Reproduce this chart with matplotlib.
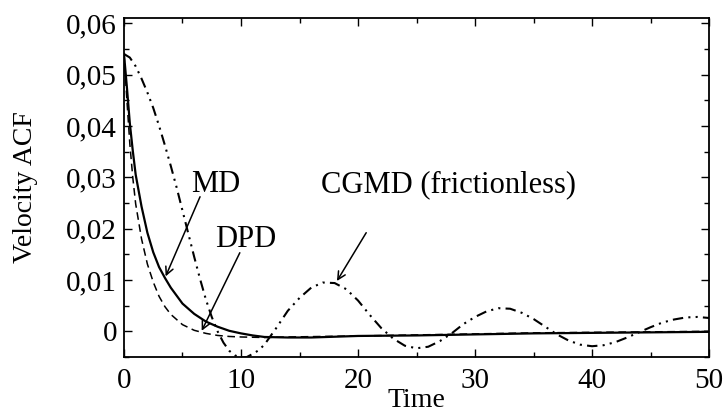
import matplotlib
matplotlib.use("Agg")
import matplotlib.pyplot as plt
from matplotlib.ticker import MultipleLocator

# ---------------------------------------------
# Velocity autocorrelation functions
# ---------------------------------------------
md_time = [0, 0.25, 0.5, 0.75, 1, 1.5, 2, 2.5, 3, 3.5, 4, 5, 6, 7, 8, 9,
           10, 11, 12, 14, 16, 20, 25, 30, 35, 40, 45, 50]
md_acf = [0.054, 0.0475, 0.0405, 0.0352, 0.0305, 0.0243, 0.0192, 0.0154,
          0.0125, 0.0104, 0.0085, 0.0054, 0.0034, 0.0019, 0.0009, 0.0001,
          -0.0004, -0.0008, -0.0011, -0.0012, -0.0012, -0.0009, -0.0008,
          -0.0006, -0.0004, -0.0003, -0.0002, -0.0001]

dpd_time = [0, 0.25, 0.5, 0.75, 1, 1.5, 2, 2.5, 3, 3.5, 4, 5, 6, 7, 8, 9,
            10, 12, 14, 20, 25, 30, 35, 40, 45, 50]
dpd_acf = [0.054, 0.045, 0.0365, 0.030, 0.0248, 0.018, 0.0131, 0.0096,
           0.0068, 0.0048, 0.0033, 0.0013, 0.0002, -0.0004, -0.0008, -0.0010,
           -0.0011, -0.0012, -0.0011, -0.0009, -0.0007, -0.0005, -0.0003,
           -0.0002, -0.0001, 0.0]

cgmd_time = [0, 0.5, 1, 1.5, 2, 2.5, 3, 3.5, 4, 4.5, 5, 5.5, 6, 6.5, 7, 7.5,
             8, 8.5, 9, 9.5, 10, 10.5, 11, 11.5, 12, 12.5, 13, 14, 15, 16, 17,
             18, 19, 20, 21, 22, 23, 24, 25, 26, 27, 28, 29, 30, 31, 32, 33,
             34, 35, 36, 37, 38, 39, 40, 41, 42, 43, 44, 45, 46, 47, 48, 49, 50]
cgmd_acf = [0.0540, 0.0533, 0.0516, 0.0492, 0.0465, 0.0435, 0.0400, 0.0362,
            0.0322, 0.0280, 0.0235, 0.0190, 0.0145, 0.0102, 0.0062, 0.0028,
            0.0000, -0.0022, -0.0038, -0.0047, -0.0051, -0.0050, -0.0044,
            -0.0037, -0.0026, -0.0010, 0.0006, 0.0040, 0.0065, 0.0085, 0.0095,
            0.0094, 0.0082, 0.0060, 0.0032, 0.0006, -0.0014, -0.0028, -0.0033,
            -0.0030, -0.0019, -0.0004, 0.0014, 0.0028, 0.0039, 0.0045, 0.0044,
            0.0036, 0.0024, 0.0009, -0.0006, -0.0018, -0.0026, -0.0029,
            -0.0027, -0.0021, -0.0012, -0.0002, 0.0008, 0.0017, 0.0023, 0.0027,
            0.0028, 0.0026]

yticks = [0, 0.01, 0.02, 0.03, 0.04, 0.05, 0.06]
ytick_labels = ["0", "0,01", "0,02", "0,03", "0,04", "0,05", "0,06"]
xticks = [0, 10, 20, 30, 40, 50]

# labels: text, text position, arrow tail, arrow head
labels = ["MD", "DPD", "CGMD (frictionless)"]
label_pos = [(7.8, 0.0285), (10.4, 0.0178), (27.7, 0.0285)]
arrow_tail = [(6.5, 0.0262), (9.9, 0.0153), (20.7, 0.0192)]
arrow_head = [(3.56, 0.0107), (6.64, 0.0001), (18.2, 0.0098)]

plt.rcParams["font.family"] = ["Liberation Serif", "DejaVu Serif"]

fig = plt.figure(figsize=(7.28, 4.16), dpi=100)
ax = fig.add_axes([0.1703, 0.1418, 0.8037, 0.8149])

ax.plot(md_time, md_acf, color="black", lw=1.6)
ax.plot(dpd_time, dpd_acf, color="black", lw=1.1, dashes=(5, 3))
ax.plot(cgmd_time, cgmd_acf, color="black", lw=1.5,
        dashes=(5, 2.5, 1, 2.5, 1, 2.5))

ax.set_xlim(0, 50)
ax.set_ylim(-0.005, 0.061)
ax.set_xticks(xticks)
ax.set_yticks(yticks)
ax.set_yticklabels(ytick_labels)
ax.xaxis.set_minor_locator(MultipleLocator(5))
ax.yaxis.set_minor_locator(MultipleLocator(0.005))

ax.tick_params(which="both", direction="in", top=True, right=True,
               labelsize=21, width=1.0)
ax.tick_params(which="major", length=6)
ax.tick_params(which="minor", length=3.5)
ax.tick_params(axis="x", pad=8)
ax.tick_params(axis="y", pad=5)
for sp in ax.spines.values():
    sp.set_linewidth(1.3)

ax.set_xlabel("Time", fontsize=20)
ax.xaxis.set_label_coords(0.5, -0.09)
ax.set_ylabel("Velocity ACF", fontsize=20)
ax.yaxis.set_label_coords(-0.147, 0.5)

arrow = dict(arrowstyle="->", color="black", lw=1.1,
             mutation_scale=14, shrinkA=0, shrinkB=0)
for name, pos, tail, head in zip(labels, label_pos, arrow_tail, arrow_head):
    ax.text(pos[0], pos[1], name, fontsize=22, ha="center", va="center")
    ax.annotate("", xy=head, xytext=tail, arrowprops=arrow)

plt.savefig("out.png", dpi=100)
